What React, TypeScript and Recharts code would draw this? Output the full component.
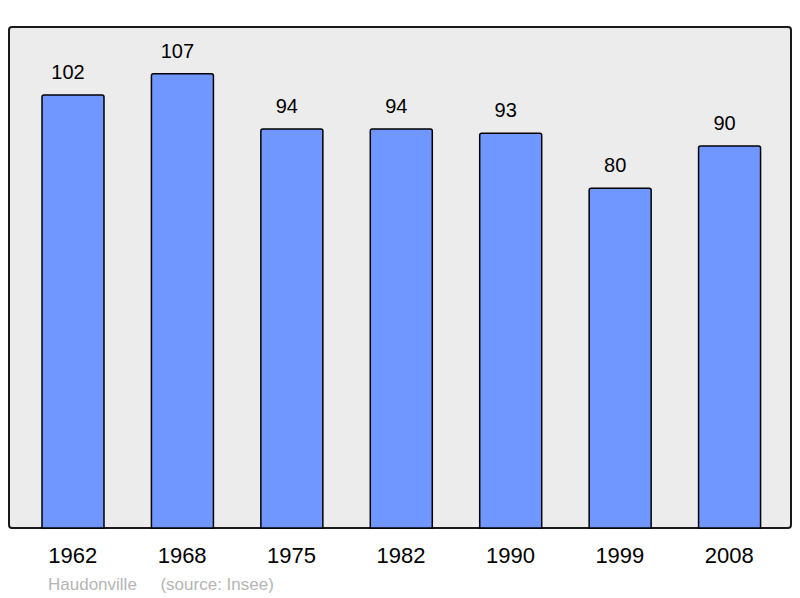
import { Bar, BarChart, LabelList, XAxis, YAxis } from "recharts";

const years = ["1962", "1968", "1975", "1982", "1990", "1999", "2008"];
const population = [102, 107, 94, 94, 93, 80, 90];
const commune = "Haudonville";
const source = "(source: Insee)";

const data = years.map((year, i) => ({ year, value: population[i] }));

const font = "'Liberation Sans', Arial, sans-serif";

export default function App() {
  return (
    <div
      style={{
        position: "absolute",
        left: 0,
        top: 0,
        width: 800,
        height: 598,
        background: "#fff",
        fontFamily: font,
      }}
    >
      <div
        style={{
          position: "absolute",
          left: 8,
          top: 26,
          width: 784,
          height: 503,
          boxSizing: "border-box",
          background: "#ececec",
          border: "2px solid #1a1a1a",
          borderRadius: 4,
        }}
      />
      <div style={{ position: "absolute", left: 0, top: 0 }}>
        <BarChart
          width={800}
          height={598}
          data={data}
          margin={{ top: 27, right: 9, bottom: 40, left: 9 }}
        >
          <XAxis
            dataKey="year"
            height={30}
            axisLine={false}
            tickLine={false}
            tickSize={0}
            tickMargin={19}
            padding={{ left: 9, right: 7 }}
            tick={{ fontSize: 22, fill: "#000", fontFamily: font }}
          />
          <YAxis hide domain={[0, 118]} />
          <Bar
            dataKey="value"
            barSize={62}
            fill="#7097ff"
            stroke="#000"
            strokeWidth={1.5}
            radius={[2, 2, 0, 0]}
            isAnimationActive={false}
          >
            <LabelList
              dataKey="value"
              position="top"
              offset={16}
              dx={-5}
              style={{ fontSize: 20, fill: "#000", fontFamily: font }}
            />
          </Bar>
        </BarChart>
      </div>
      <div
        style={{
          position: "absolute",
          left: 48,
          top: 575,
          fontSize: 17,
          color: "#b5b5b5",
          whiteSpace: "pre",
        }}
      >
        {commune + "     " + source}
      </div>
    </div>
  );
}
